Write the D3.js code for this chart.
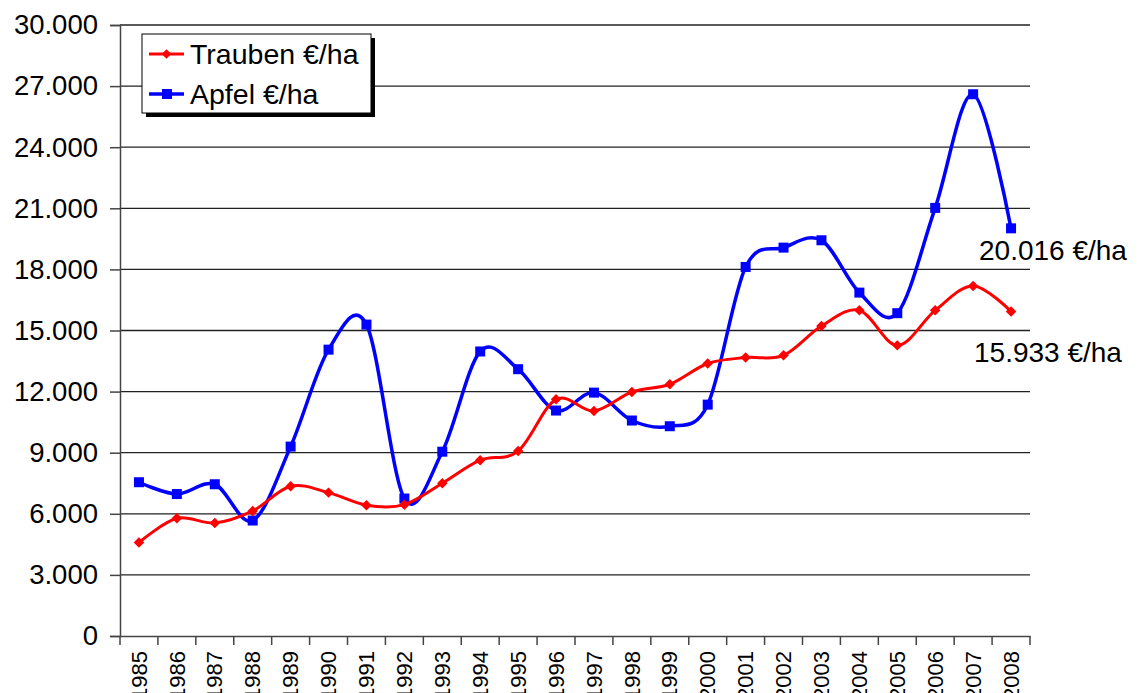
<!DOCTYPE html>
<html>
<head>
<meta charset="utf-8">
<script src="https://cdn.jsdelivr.net/npm/d3@7"></script>
<style>
  body { margin: 0; background: #fff; }
  text { font-family: "Liberation Sans", Arial, sans-serif; fill: #000; }
</style>
</head>
<body>
<svg id="chart" width="1138" height="693"></svg>
<script>
var years = ["1985","1986","1987","1988","1989","1990","1991","1992","1993","1994","1995","1996",
             "1997","1998","1999","2000","2001","2002","2003","2004","2005","2006","2007","2008"];
var trauben = [4590, 5780, 5550, 6140, 7350, 7040, 6420, 6450, 7500, 8630, 9080, 11620,
               11050, 11980, 12360, 13380, 13670, 13780, 15220, 15990, 14270, 15990, 17190, 15933];
var apfel = [7550, 6970, 7450, 5670, 9300, 14060, 15290, 6750, 9050, 13970, 13100, 11070,
             11950, 10580, 10300, 11360, 18120, 19070, 19430, 16860, 15850, 21020, 26600, 20016];
var yTicks = [0, 3000, 6000, 9000, 12000, 15000, 18000, 21000, 24000, 27000, 30000];
var seriesNames = ["Trauben €/ha", "Apfel €/ha"];
var endLabels = ["20.016 €/ha", "15.933 €/ha"];

var svg = d3.select("#chart");
var plotLeft = 120, plotRight = 1030, plotTop = 25, plotBottom = 636;

var x = d3.scaleBand().domain(years).range([plotLeft, plotRight]);
var y = d3.scaleLinear().domain([0, 30000]).range([plotBottom, plotTop]);
var fmt = function(d) { return d3.format(",")(d).replace(/,/g, "."); };

/* grid lines */
svg.append("g").selectAll("line").data(yTicks.slice(1)).enter().append("line")
  .attr("x1", plotLeft).attr("x2", plotRight)
  .attr("y1", function(d) { return y(d); }).attr("y2", function(d) { return y(d); })
  .attr("stroke", "#222").attr("stroke-width", 1.3);

/* y axis */
var yAxis = svg.append("g").attr("transform", "translate(" + plotLeft + ",0)")
  .call(d3.axisLeft(y).tickValues(yTicks).tickSize(10).tickPadding(12).tickFormat(fmt));
yAxis.select(".domain").attr("stroke", "#444").attr("stroke-width", 1.5);
yAxis.selectAll(".tick line").attr("stroke", "#444").attr("stroke-width", 1.5);
yAxis.selectAll("text").style("font-size", "27.5px").style("font-family", "Liberation Sans, Arial, sans-serif").attr("fill", "#000");

/* x axis */
var xAxis = svg.append("g").attr("transform", "translate(0," + plotBottom + ")")
  .call(d3.axisBottom(x).tickSize(0).tickFormat(function(d) { return d; }));
xAxis.select(".domain").attr("stroke", "#444").attr("stroke-width", 1.5);
xAxis.selectAll("text")
  .style("font-size", "22px").style("font-family", "Liberation Sans, Arial, sans-serif").attr("fill", "#000")
  .attr("transform", "rotate(-90)")
  .attr("text-anchor", "end").attr("dy", "0.35em").attr("x", -15).attr("y", 0);
xAxis.selectAll(".sep").data(d3.range(years.length + 1)).enter().append("line")
  .attr("x1", function(i) { return plotLeft + i * x.bandwidth(); })
  .attr("x2", function(i) { return plotLeft + i * x.bandwidth(); })
  .attr("y1", 0).attr("y2", 9).attr("stroke", "#444").attr("stroke-width", 1.5);

var cx = function(d, i) { return x(years[i]) + x.bandwidth() / 2; };
var line = d3.line().x(cx).y(function(d) { return y(d); }).curve(d3.curveCardinal.tension(0));

/* Apfel */
svg.append("path").datum(apfel).attr("d", line)
  .attr("fill", "none").attr("stroke", "#0000ff").attr("stroke-width", 3.5);
svg.append("g").selectAll("rect").data(apfel).enter().append("rect")
  .attr("x", function(d, i) { return cx(d, i) - 5; })
  .attr("y", function(d) { return y(d) - 5; })
  .attr("width", 10).attr("height", 10).attr("fill", "#0000ff");

/* Trauben */
svg.append("path").datum(trauben).attr("d", line)
  .attr("fill", "none").attr("stroke", "#ff0000").attr("stroke-width", 3);
svg.append("g").selectAll("path").data(trauben).enter().append("path")
  .attr("d", d3.symbol().type(d3.symbolDiamond2).size(70))
  .attr("transform", function(d, i) { return "translate(" + cx(d, i) + "," + y(d) + ")"; })
  .attr("fill", "#ff0000");

/* end labels */
svg.append("text").attr("x", 979).attr("y", 260).style("font-size", "28px").text(endLabels[0]);
svg.append("text").attr("x", 974).attr("y", 362).style("font-size", "28px").text(endLabels[1]);

/* legend */
var lg = svg.append("g").attr("transform", "translate(142,34)");
lg.append("rect").attr("x", 4).attr("y", 4).attr("width", 229).attr("height", 79).attr("fill", "#000");
lg.append("rect").attr("x", 0).attr("y", 0).attr("width", 229).attr("height", 79)
  .attr("fill", "#fff").attr("stroke", "#000").attr("stroke-width", 1);
var colors = ["#ff0000", "#0000ff"];
seriesNames.forEach(function(name, i) {
  var yy = 20 + i * 40;
  lg.append("line").attr("x1", 7).attr("x2", 42).attr("y1", yy).attr("y2", yy)
    .attr("stroke", colors[i]).attr("stroke-width", i == 0 ? 3 : 3.5);
  if (i == 0)
    lg.append("path").attr("d", d3.symbol().type(d3.symbolDiamond2).size(60))
      .attr("transform", "translate(24.5," + yy + ")").attr("fill", colors[i]);
  else
    lg.append("rect").attr("x", 20).attr("y", yy - 5).attr("width", 10).attr("height", 10).attr("fill", colors[i]);
  lg.append("text").attr("x", 48).attr("y", yy + 10).style("font-size", "28.5px").text(name);
});
</script>
</body>
</html>
